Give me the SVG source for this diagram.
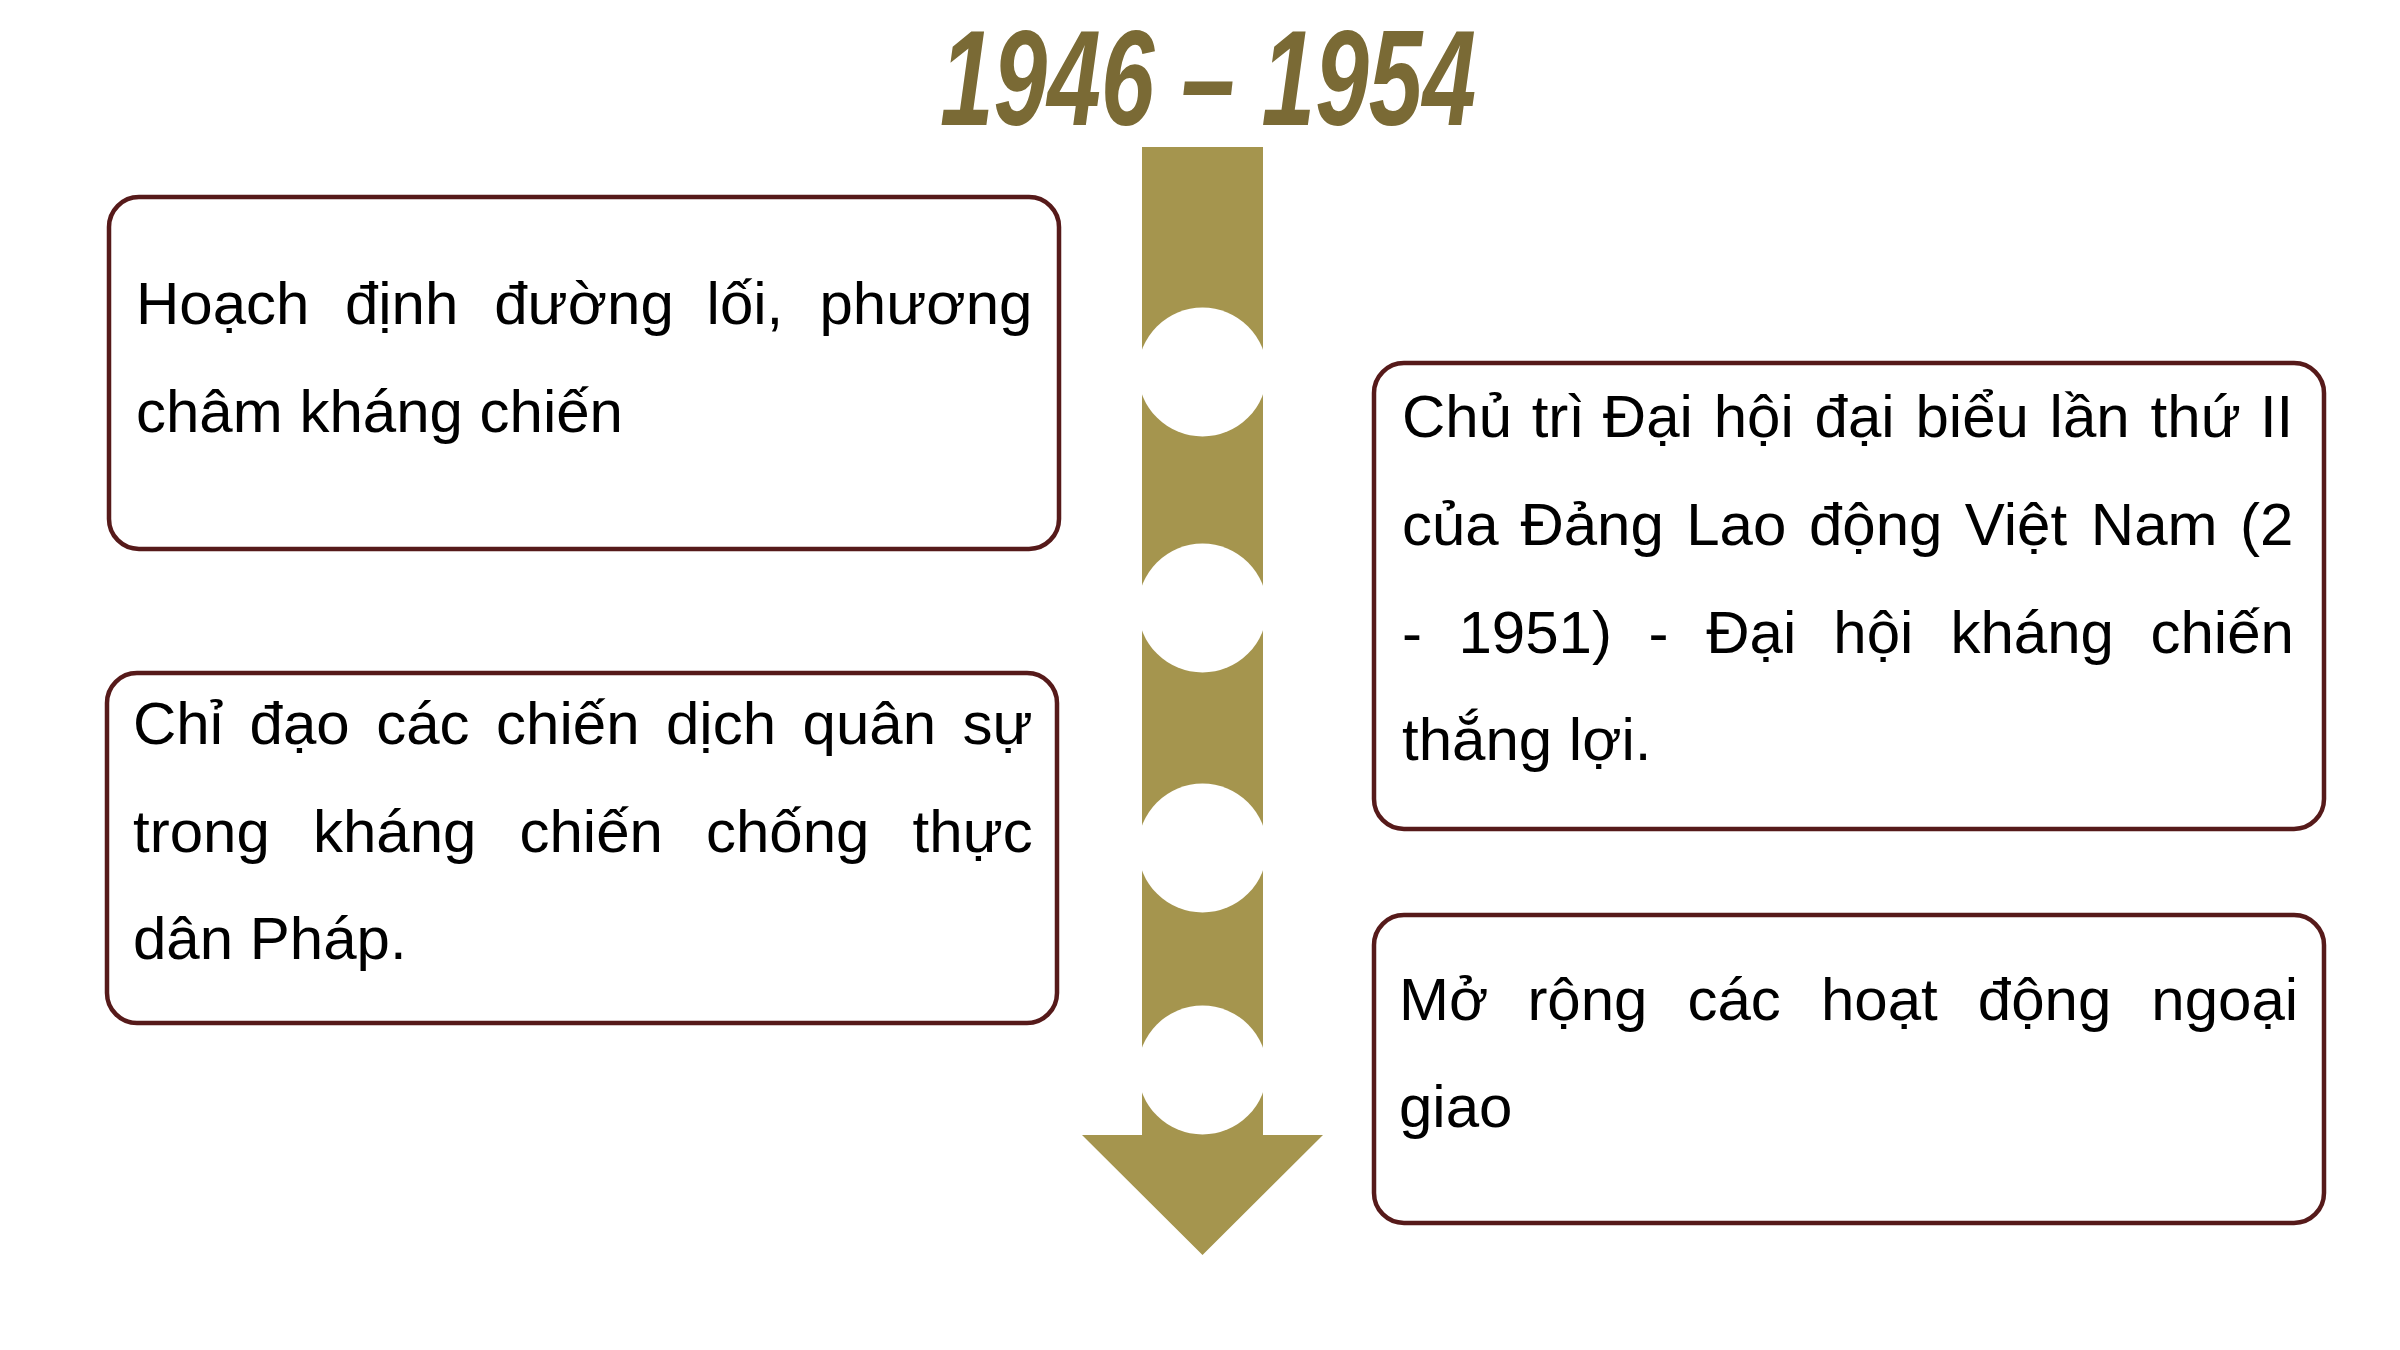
<svg xmlns="http://www.w3.org/2000/svg" width="2400" height="1350" viewBox="0 0 2400 1350">
  <style>
    .box { fill: #ffffff; stroke: #561a1a; stroke-width: 4.5; }
    .txt { font-family: "Liberation Sans", Arial, sans-serif; font-size: 60px; fill: #000000; }
    .title { font-family: "Liberation Sans", Arial, sans-serif; font-size: 136px; font-weight: bold; font-style: italic; fill: #7a6a35; }
    .shaft { fill: #a5954e; }
    .dot { fill: #ffffff; }
  </style>
  <rect x="0" y="0" width="2400" height="1350" fill="#ffffff"/>

  <g id="title">
    <text class="title" x="940" y="125" textLength="536" lengthAdjust="spacingAndGlyphs">1946 – 1954</text>
  </g>

  <g id="connectors">
    <g id="timeline-arrow">
      <polygon class="shaft" points="1142,147 1263,147 1263,1135 1323,1135 1202.5,1255 1082,1135 1142,1135"/>
      <circle class="dot" cx="1202.5" cy="372" r="64.5"/>
      <circle class="dot" cx="1202.5" cy="608" r="64.5"/>
      <circle class="dot" cx="1202.5" cy="848" r="64.5"/>
      <circle class="dot" cx="1202.5" cy="1070" r="64.5"/>
    </g>
  </g>

  <g id="node-1">
    <rect class="box" x="109" y="197" width="950" height="352" rx="30" ry="30"/>
    <text class="txt" y="324"><tspan x="136">Hoạch</tspan><tspan x="344.9">định</tspan><tspan x="494.2">đường</tspan><tspan x="706.6">lối,</tspan><tspan x="819.4">phương</tspan></text>
    <text class="txt" x="136" y="432">châm kháng chiến</text>
  </g>

  <g id="node-2">
    <rect class="box" x="107" y="673" width="950" height="350" rx="30" ry="30"/>
    <text class="txt" y="744"><tspan x="133">Chỉ</tspan><tspan x="249.6">đạo</tspan><tspan x="376.2">các</tspan><tspan x="496.1">chiến</tspan><tspan x="666">dịch</tspan><tspan x="802.6">quân</tspan><tspan x="962.6">sự</tspan></text>
    <text class="txt" y="852"><tspan x="133">trong</tspan><tspan x="312.9">kháng</tspan><tspan x="519.5">chiến</tspan><tspan x="706">chống</tspan><tspan x="912.6">thực</tspan></text>
    <text class="txt" x="133" y="959">dân Pháp.</text>
  </g>

  <g id="node-3">
    <rect class="box" x="1374" y="363" width="950" height="466" rx="30" ry="30"/>
    <text class="txt" y="437"><tspan x="1402">Chủ</tspan><tspan x="1531.7">trì</tspan><tspan x="1602.8">Đại</tspan><tspan x="1713.7">hội</tspan><tspan x="1814.6">đại</tspan><tspan x="1915.5">biểu</tspan><tspan x="2049.6">lần</tspan><tspan x="2150.6">thứ</tspan><tspan x="2259.9">II</tspan></text>
    <text class="txt" y="545"><tspan x="1402">của</tspan><tspan x="1520.4">Đảng</tspan><tspan x="1686.2">Lao</tspan><tspan x="1809">động</tspan><tspan x="1964.8">Việt</tspan><tspan x="2090.8">Nam</tspan><tspan x="2240">(2</tspan></text>
    <text class="txt" y="653"><tspan x="1402">-</tspan><tspan x="1458.5">1951)</tspan><tspan x="1648.6">-</tspan><tspan x="1706.2">Đại</tspan><tspan x="1833.3">hội</tspan><tspan x="1950.5">kháng</tspan><tspan x="2150.5">chiến</tspan></text>
    <text class="txt" x="1402" y="760">thắng lợi.</text>
  </g>

  <g id="node-4">
    <rect class="box" x="1374" y="915" width="950" height="308" rx="30" ry="30"/>
    <text class="txt" y="1020"><tspan x="1399">Mở</tspan><tspan x="1527.4">rộng</tspan><tspan x="1687.5">các</tspan><tspan x="1821">hoạt</tspan><tspan x="1977.8">động</tspan><tspan x="2151.3">ngoại</tspan></text>
    <text class="txt" x="1399" y="1127">giao</text>
  </g>
</svg>
